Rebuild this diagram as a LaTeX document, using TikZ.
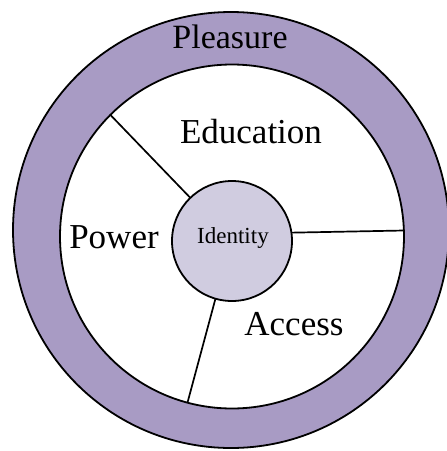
\documentclass[tikz,border=0pt]{standalone}
\usepackage{fontspec}
\setmainfont{Liberation Serif}
\definecolor{ringpurple}{RGB}{168,155,196}
\definecolor{corelilac}{RGB}{208,204,224}
\begin{document}
\begin{tikzpicture}[x=1pt,y=-1pt,
  disc/.style={circle,draw=black,line width=1.8pt,inner sep=0pt,outer sep=0pt},
  divider/.style={draw=black,line width=1.7pt},
  biglabel/.style={anchor=base,inner sep=0pt,font=\fontsize{35}{40}\selectfont},
  smalllabel/.style={anchor=base,inner sep=0pt,font=\fontsize{23}{27}\selectfont}]
  \useasboundingbox (0,0) rectangle (447,451);
  \fill[white] (0,0) rectangle (447,451);
  % outer ring and inner field
  \node[disc,fill=ringpurple,minimum size=436pt] (outer) at (231,230) {};
  \node[disc,fill=white,minimum size=344pt] (inner) at (232,236.5) {};
  % central circle
  \node[disc,fill=corelilac,minimum size=120pt] (core) at (232,241) {};
  % dividers between the sectors
  \draw[divider] (core.134) -- (inner.135);
  \draw[divider] (core.8.5) -- (inner.2.6);
  \draw[divider] (core.-106) -- (inner.-105);
  % labels
  \node[biglabel,font=\fontsize{34}{40}\selectfont] (pleasure) at (230,48) {Pleasure};
  \node[biglabel] (education) at (251,143) {Education};
  \node[biglabel] (power) at (114,248) {Power};
  \node[biglabel] (access) at (294,335) {Access};
  \node[smalllabel] (identity) at (233,243) {Identity};
\end{tikzpicture}
\end{document}
